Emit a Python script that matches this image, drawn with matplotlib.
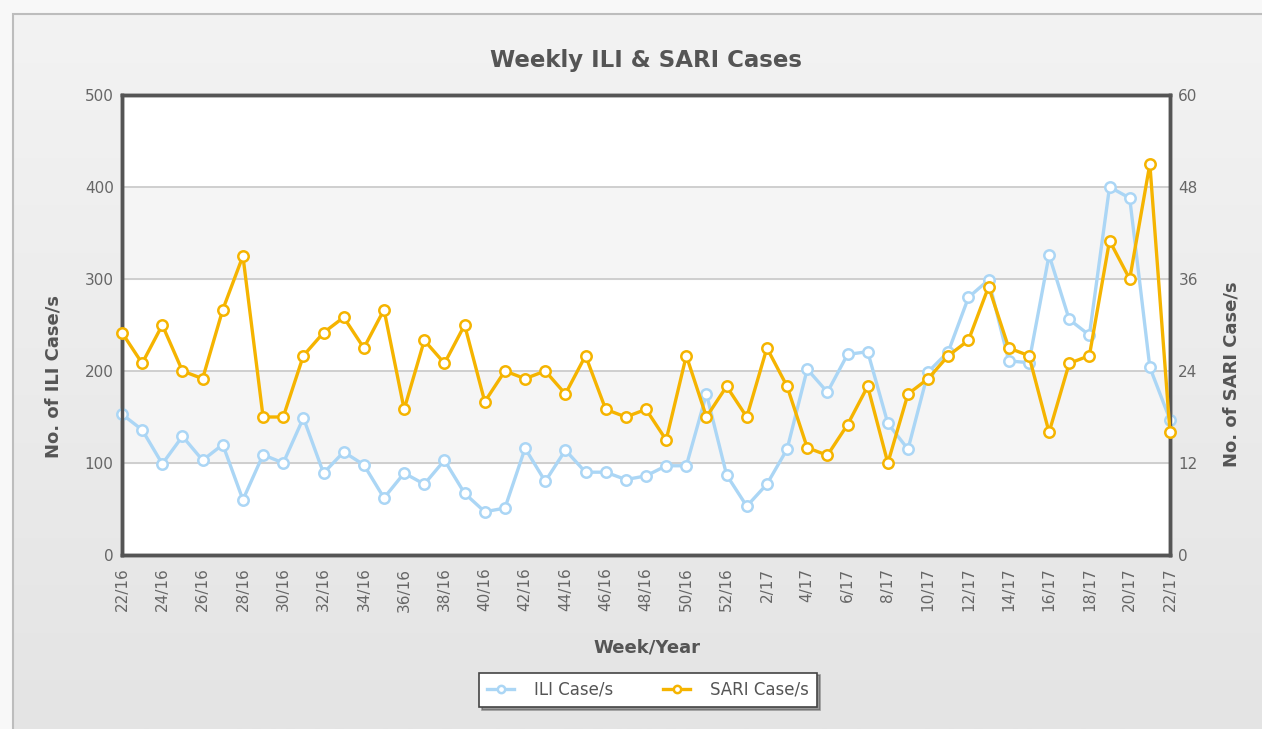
import numpy as np
import matplotlib.pyplot as plt
from matplotlib.colors import LinearSegmentedColormap
from matplotlib.patches import Rectangle

# weeks 22/16 .. 52/16 then 1/17 .. 22/17
weeks = [f"{w}/16" for w in range(22, 53)] + [f"{w}/17" for w in range(1, 23)]

ili = [153, 136, 99, 129, 103, 120, 60, 109, 100, 149,
       89, 112, 98, 62, 89, 77, 103, 67, 47, 51,
       116, 80, 114, 90, 90, 82, 86, 97, 97, 175,
       87, 53, 77, 115, 202, 177, 218, 221, 143, 115,
       199, 221, 280, 299, 211, 209, 326, 256, 239, 400,
       388, 204, 147]

sari = [29, 25, 30, 24, 23, 32, 39, 18, 18, 26,
        29, 31, 27, 32, 19, 28, 25, 30, 20, 24,
        23, 24, 21, 26, 19, 18, 19, 15, 26, 18,
        22, 18, 27, 22, 14, 13, 17, 22, 12, 21,
        23, 26, 28, 35, 27, 26, 16, 25, 26, 41,
        36, 51, 16]

ili_color = "#abd6f5"
sari_color = "#f5b400"
text_color = "#555555"
tick_color = "#666666"

W, H = 1262, 729
fig = plt.figure(figsize=(W / 100, H / 100), dpi=100)
fig.patch.set_facecolor("#f8f8f8")

# background panel with a soft vertical gradient
bg = fig.add_axes([0, 0, 1, 1], zorder=-10)
grad = np.linspace(0, 1, 256).reshape(-1, 1)
bg.imshow(grad, extent=[13 / W, 1.0, 0, 1 - 14 / H], aspect="auto",
          cmap=LinearSegmentedColormap.from_list("g", ["#f3f3f3", "#e4e4e4"]),
          origin="upper", transform=bg.transAxes)
bg.add_patch(Rectangle((13 / W, -0.01), 1.0, 1 - 14 / H + 0.01,
                       transform=bg.transAxes, fill=False,
                       edgecolor="#bdbdbd", linewidth=1.5))
bg.set_xlim(0, 1)
bg.set_ylim(0, 1)
bg.axis("off")

ax = fig.add_axes([122 / W, 1 - 555 / H, (1170 - 122) / W, (555 - 95) / H])
ax.set_facecolor("white")
x = np.arange(len(weeks))

# alternating bands
for lo in (100, 300):
    ax.axhspan(lo, lo + 100, color="#f5f5f5", zorder=0)
for g in (100, 200, 300, 400):
    ax.axhline(g, color="#c8c8c8", linewidth=1.2, zorder=1)

ax.plot(x, ili, color=ili_color, linewidth=2.4, marker="o", markersize=7.5,
        markerfacecolor="white", markeredgecolor=ili_color, markeredgewidth=1.8,
        zorder=3, clip_on=False, label="ILI Case/s")
ax.set_xlim(0, len(weeks) - 1)
ax.set_ylim(0, 500)
ax.set_yticks([0, 100, 200, 300, 400, 500])
ax.set_xticks(x[::2])
ax.set_xticklabels(weeks[::2], rotation=90)

ax2 = ax.twinx()
ax2.plot(x, sari, color=sari_color, linewidth=2.4, marker="o", markersize=7.5,
         markerfacecolor="white", markeredgecolor=sari_color, markeredgewidth=1.8,
         zorder=4, clip_on=False, label="SARI Case/s")
ax2.set_ylim(0, 60)
ax2.set_yticks([0, 12, 24, 36, 48, 60])

for a in (ax, ax2):
    for s in a.spines.values():
        s.set_color("#555555")
        s.set_linewidth(2.5)
    a.tick_params(length=0, labelsize=11, labelcolor=tick_color, pad=6)
ax.tick_params(axis="x", pad=9)

ax.set_title("Weekly ILI & SARI Cases", fontsize=16.5, fontweight="bold",
             color=text_color, pad=20)
ax.set_xlabel("Week/Year", fontsize=13, fontweight="bold", color=text_color)
ax.set_ylabel("No. of ILI Case/s", fontsize=13, fontweight="bold",
              color=text_color)
ax2.set_ylabel("No. of SARI Case/s", fontsize=13, fontweight="bold",
               color=text_color, rotation=90)
# label positions in axes fraction
ax.xaxis.set_label_coords((647 - 122) / 1048, -(639 - 555) / 460)
ax.yaxis.set_label_coords(-(122 - 63) / 1048, (555 - 377) / 460)
ax2.yaxis.set_label_coords(1 + (1222 - 1170) / 1048, (555 - 374) / 460)

h1, l1 = ax.get_legend_handles_labels()
h2, l2 = ax2.get_legend_handles_labels()
leg = fig.legend(h1 + h2, l1 + l2, loc="center", ncol=2,
                 bbox_to_anchor=(648 / W, 1 - 690 / H), frameon=True,
                 fancybox=False, shadow=True, edgecolor="#444444",
                 fontsize=12, handlelength=1.6, columnspacing=3.0,
                 borderpad=0.5, handletextpad=1.2, markerscale=0.7)
leg.get_frame().set_linewidth(1.2)
for t in leg.get_texts():
    t.set_color(text_color)

fig.savefig("out.png", dpi=100, facecolor=fig.get_facecolor())
